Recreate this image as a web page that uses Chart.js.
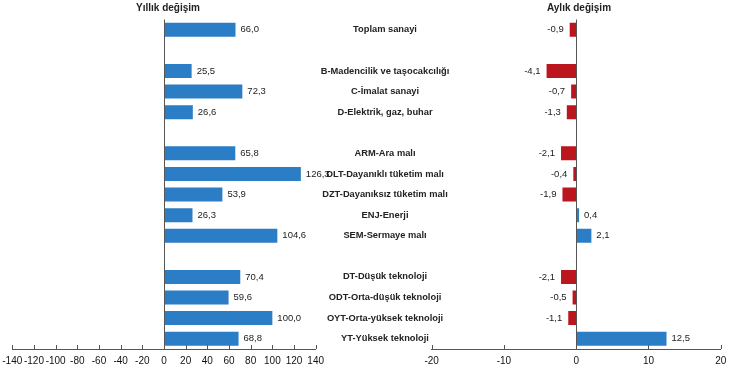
<!DOCTYPE html>
<html>
<head>
<meta charset="utf-8">
<script src="https://cdn.jsdelivr.net/npm/chart.js@4.4.0/dist/chart.umd.min.js"></script>
<style>
  body { margin: 0; background: #fff; }
  #wrap { position: relative; width: 730px; height: 369px; }
  canvas { position: absolute; left: 0; top: 0; }
  .ttl { position: absolute; top: 2px; font: bold 10px "Liberation Sans", Arial, sans-serif; color: #222; transform: translateX(-50%); white-space: nowrap; }
</style>
</head>
<body>
<div id="wrap">
  <canvas id="yillik" width="730" height="369"></canvas>
  <canvas id="aylik" width="730" height="369"></canvas>
  <div class="ttl" style="left:168px">Yıllık değişim</div>
  <div class="ttl" style="left:579px">Aylık değişim</div>
</div>
<script>
// empty strings are the gaps between groups
let categories = [
  "Toplam sanayi", "",
  "B-Madencilik ve taşocakcılığı", "C-İmalat sanayi", "D-Elektrik, gaz, buhar", "",
  "ARM-Ara malı", "DLT-Dayanıklı tüketim malı", "DZT-Dayanıksız tüketim malı", "ENJ-Enerji", "SEM-Sermaye malı", "",
  "DT-Düşük teknoloji", "ODT-Orta-düşük teknoloji", "OYT-Orta-yüksek teknoloji", "YT-Yüksek teknoloji"
];
let yillikValues = [66.0, null, 25.5, 72.3, 26.6, null, 65.8, 126.3, 53.9, 26.3, 104.6, null, 70.4, 59.6, 100.0, 68.8];
let aylikValues = [-0.9, null, -4.1, -0.7, -1.3, null, -2.1, -0.4, -1.9, 0.4, 2.1, null, -2.1, -0.5, -1.1, 12.5];
let yillikTicks = [-140, -120, -100, -80, -60, -40, -20, 0, 20, 40, 60, 80, 100, 120, 140];
let aylikTicks = [-20, -10, 0, 10, 20];

const FONT = "'Liberation Sans', Arial, sans-serif";
const BLUE = "#2b7dc6";
const RED = "#bb161e";
const AXIS = "#555";

Chart.defaults.font.family = FONT;
Chart.defaults.font.size = 10;
Chart.defaults.color = "#111";

// value labels next to bar ends
let valueLabels = {
  id: "valueLabels",
  afterDatasetsDraw(chart) {
    let ctx = chart.ctx;
    let data = chart.data.datasets[0].data;
    ctx.save();
    ctx.font = "9.5px " + FONT;
    ctx.fillStyle = "#222";
    ctx.textBaseline = "middle";
    chart.getDatasetMeta(0).data.forEach((bar, i) => {
      let v = data[i];
      if (v === null) return;
      let txt = v.toFixed(1).replace(".", ",");
      if (v < 0) {
        ctx.textAlign = "right";
        ctx.fillText(txt, bar.x - 6, bar.y);
      } else {
        ctx.textAlign = "left";
        ctx.fillText(txt, bar.x + 5, bar.y);
      }
    });
    ctx.restore();
  }
};

// zero line + tick marks pointing up into the plot
let axisMarks = {
  id: "axisMarks",
  afterDraw(chart) {
    let ctx = chart.ctx;
    let x = chart.scales.x;
    let area = chart.chartArea;
    ctx.save();
    ctx.strokeStyle = AXIS;
    ctx.lineWidth = 1;
    let zx = Math.round(x.getPixelForValue(0)) + 0.5;
    ctx.beginPath();
    ctx.moveTo(zx, area.top);
    ctx.lineTo(zx, area.bottom);
    x.ticks.forEach(t => {
      let px = Math.round(x.getPixelForValue(t.value)) + 0.5;
      ctx.moveTo(px, area.bottom);
      ctx.lineTo(px, area.bottom - 4);
    });
    ctx.stroke();
    ctx.restore();
  }
};

// category names in the middle
let categoryNames = {
  id: "categoryNames",
  afterDraw(chart) {
    let ctx = chart.ctx;
    let y = chart.scales.y;
    ctx.save();
    ctx.font = "bold 9.3px " + FONT;
    ctx.fillStyle = "#222";
    ctx.textAlign = "center";
    ctx.textBaseline = "middle";
    categories.forEach((c, i) => {
      if (c) ctx.fillText(c, 385, y.getPixelForValue(i));
    });
    ctx.restore();
  }
};

let makeOptions = (ticks, padLeft, padRight) => ({
  indexAxis: "y",
  responsive: false,
  animation: false,
  layout: { padding: { left: padLeft, right: padRight, top: 19.5, bottom: 0 } },
  plugins: { legend: { display: false }, tooltip: { enabled: false } },
  scales: {
    x: {
      min: ticks[0],
      max: ticks[ticks.length - 1],
      afterBuildTicks: scale => { scale.ticks = ticks.map(v => ({ value: v })); },
      afterFit: scale => {
        scale.height = 20;
        scale.paddingLeft = 0;
        scale.paddingRight = 0;
      },
      ticks: { autoSkip: false, maxRotation: 0, padding: 6, color: "#111" },
      grid: { display: false, drawTicks: false },
      border: { display: true, color: AXIS, width: 1 }
    },
    y: { display: false }
  }
});

new Chart(document.getElementById("yillik"), {
  type: "bar",
  data: {
    labels: categories,
    datasets: [{
      data: yillikValues,
      backgroundColor: BLUE,
      barPercentage: 0.68,
      categoryPercentage: 1
    }]
  },
  options: makeOptions(yillikTicks, 12.3, 414.3),
  plugins: [axisMarks, valueLabels]
});

new Chart(document.getElementById("aylik"), {
  type: "bar",
  data: {
    labels: categories,
    datasets: [{
      data: aylikValues,
      backgroundColor: aylikValues.map(v => v < 0 ? RED : BLUE),
      barPercentage: 0.68,
      categoryPercentage: 1
    }]
  },
  options: makeOptions(aylikTicks, 431.7, 9.3),
  plugins: [axisMarks, valueLabels, categoryNames]
});
</script>
</body>
</html>
